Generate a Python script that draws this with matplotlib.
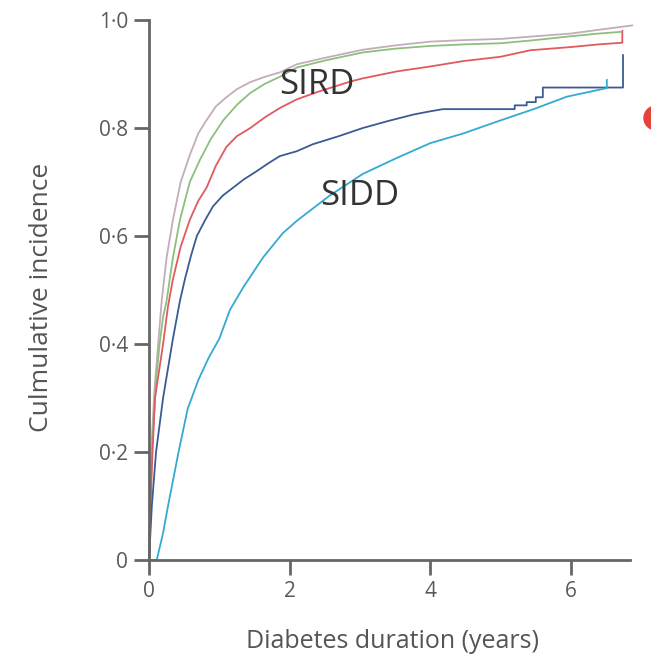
import matplotlib
matplotlib.use("Agg")
import matplotlib.pyplot as plt
from matplotlib.patches import Circle

plt.rcParams["font.family"] = ["Open Sans", "DejaVu Sans"]

# 曲线数据
gray_x = [0, 0.03, 0.08, 0.13, 0.18, 0.25, 0.34, 0.45, 0.58, 0.7, 0.82, 0.95, 1.1, 1.25,
          1.44, 1.65, 1.86, 2.1, 2.5, 3.04, 3.5, 4.0, 4.5, 5.0, 5.5, 6.0, 6.4, 6.87]
gray_y = [0, 0.2, 0.32, 0.4, 0.48, 0.56, 0.63, 0.7, 0.75, 0.79, 0.815, 0.84, 0.857, 0.872,
          0.885, 0.895, 0.903, 0.918, 0.93, 0.945, 0.953, 0.96, 0.963, 0.965, 0.97, 0.975, 0.982, 0.99]

green_x = [0, 0.04, 0.1, 0.15, 0.2, 0.25, 0.34, 0.44, 0.58, 0.72, 0.88, 1.06, 1.25, 1.44,
           1.65, 1.86, 2.1, 2.5, 3.04, 3.5, 4.0, 4.5, 5.0, 5.5, 6.0, 6.4, 6.7]
green_y = [0, 0.2, 0.33, 0.4, 0.45, 0.48, 0.56, 0.63, 0.7, 0.74, 0.78, 0.815, 0.843, 0.865,
           0.882, 0.895, 0.912, 0.925, 0.94, 0.947, 0.952, 0.955, 0.957, 0.963, 0.97, 0.975, 0.978]

red_x = [0, 0.02, 0.05, 0.085, 0.2, 0.27, 0.34, 0.45, 0.58, 0.7, 0.82, 0.95, 1.1, 1.25, 1.44,
         1.65, 1.86, 2.1, 2.4, 2.86, 3.04, 3.53, 4.0, 4.47, 5.0, 5.42, 6.0, 6.4, 6.73, 6.73]
red_y = [0, 0.1, 0.2, 0.3, 0.4, 0.47, 0.52, 0.58, 0.63, 0.665, 0.69, 0.73, 0.765, 0.785, 0.8,
         0.82, 0.837, 0.853, 0.867, 0.886, 0.892, 0.905, 0.914, 0.924, 0.932, 0.944, 0.95, 0.955, 0.958, 0.98]

navy_x = [0, 0.04, 0.1, 0.2, 0.34, 0.44, 0.51, 0.6, 0.68, 0.8, 0.91, 1.05, 1.2, 1.35,
          1.53, 1.7, 1.86, 2.1, 2.33, 2.7, 3.04, 3.4, 3.76, 4.0, 4.18, 5.2, 5.2, 5.37, 5.37,
          5.5, 5.5, 5.6, 5.6, 6.74, 6.74]
navy_y = [0, 0.1, 0.2, 0.3, 0.41, 0.48, 0.52, 0.565, 0.6, 0.63, 0.655, 0.675, 0.69, 0.705,
          0.72, 0.735, 0.748, 0.757, 0.77, 0.785, 0.8, 0.813, 0.825, 0.831, 0.835, 0.835, 0.842,
          0.842, 0.848, 0.848, 0.857, 0.857, 0.875, 0.875, 0.935]

cyan_x = [0, 0.11, 0.2, 0.27, 0.42, 0.55, 0.7, 0.85, 1.0, 1.15, 1.34, 1.62, 1.9, 2.1, 2.57,
          3.04, 3.53, 4.0, 4.47, 4.95, 5.47, 5.94, 6.51, 6.51]
cyan_y = [0, 0, 0.05, 0.1, 0.2, 0.28, 0.333, 0.375, 0.41, 0.463, 0.505, 0.56, 0.605, 0.628,
          0.675, 0.715, 0.745, 0.772, 0.79, 0.812, 0.835, 0.858, 0.874, 0.889]

y_ticks = [0, 0.2, 0.4, 0.6, 0.8, 1.0]
y_labels = ["0", "0·2", "0·4", "0·6", "0·8", "1·0"]
x_ticks = [0, 2, 4, 6]
x_labels = ["0", "2", "4", "6"]

fig = plt.figure(figsize=(6.51, 6.59), dpi=100)
ax = fig.add_axes([0.2289, 0.1502, 0.7389, 0.8194])

lw = 1.3
ax.plot(gray_x, gray_y, color="#c4acbc", lw=lw, clip_on=False)
ax.plot(green_x, green_y, color="#8cc07c", lw=lw, clip_on=False)
ax.plot(red_x, red_y, color="#e05a5e", lw=lw, clip_on=False)
ax.plot(navy_x, navy_y, color="#3b5b94", lw=lw, clip_on=False)
ax.plot(cyan_x, cyan_y, color="#33aad2", lw=lw, clip_on=False)

ax.text(2.38, 0.88, "SIRD", fontsize=25, color="#333333", ha="center", va="center")
ax.text(3.0, 0.675, "SIDD", fontsize=25, color="#333333", ha="center", va="center")

ax.set_xlim(0, 6.84)
ax.set_ylim(0, 1.0)
ax.set_xticks(x_ticks)
ax.set_xticklabels(x_labels)
ax.set_yticks(y_ticks)
ax.set_yticklabels(y_labels)

for s in ["top", "right"]:
    ax.spines[s].set_visible(False)
for s in ["left", "bottom"]:
    ax.spines[s].set_color("#666666")
    ax.spines[s].set_linewidth(2)

ax.tick_params(axis="y", length=11, width=2, color="#666666", labelcolor="#5a5a5a",
               labelsize=15, pad=4)
ax.tick_params(axis="x", length=11, width=2, color="#666666", labelcolor="#5a5a5a",
               labelsize=15, pad=4)

ax.set_ylabel("Culmulative incidence", fontsize=19, color="#555555", va="center")
ax.set_xlabel("Diabetes duration (years)", fontsize=18, color="#555555", va="center")
ax.yaxis.set_label_coords(-0.2245, 0.487)
ax.xaxis.set_label_coords(0.506, -0.15)

# 右侧边缘的红点
fig.patches.append(Circle((6.56, 5.41), 0.12, transform=fig.dpi_scale_trans,
                          color="#e8403a", zorder=5))

fig.savefig("out.png", dpi=100)
